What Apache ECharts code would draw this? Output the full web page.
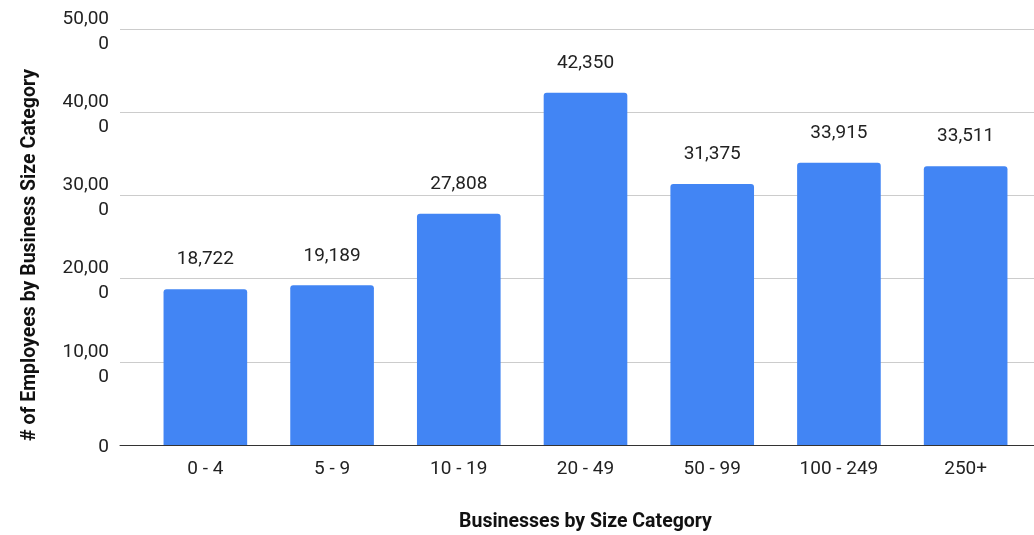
<!DOCTYPE html>
<html>
<head>
<meta charset="utf-8">
<script src="https://cdn.jsdelivr.net/npm/echarts@6/dist/echarts.min.js"></script>
<style>
html,body{margin:0;padding:0;background:#fff;}
#chart{width:1034px;height:535px;}
</style>
</head>
<body>
<div id="chart"></div>
<script>
const categories = ['0 - 4', '5 - 9', '10 - 19', '20 - 49', '50 - 99', '100 - 249', '250+'];
const employees = [18722, 19189, 27808, 42350, 31375, 33915, 33511];
const yTickValues = [0, 10000, 20000, 30000, 40000, 50000];
const yTickLabels = ['0', '10,00\n0', '20,00\n0', '30,00\n0', '40,00\n0', '50,00\n0'];
const xTitle = 'Businesses by Size Category';
const yTitle = '# of Employees by Business Size Category';

const FONT = 'Roboto';
const chart = echarts.init(document.getElementById('chart'));
chart.setOption({
  backgroundColor: '#fff',
  animation: false,
  textStyle: { fontFamily: FONT },
  grid: [
    { left: 120, right: 0, top: 29, bottom: 90, outerBoundsMode: 'none', containLabel: false },
    { left: 142, right: 5, top: 29, bottom: 90, outerBoundsMode: 'none', containLabel: false }
  ],
  xAxis: [
    {
      gridIndex: 0, type: 'value', min: 0, max: 1,
      axisLine: { show: true, onZero: false, lineStyle: { color: '#333', width: 1 } },
      axisTick: { show: false }, axisLabel: { show: false }, splitLine: { show: false }
    },
    {
      gridIndex: 1, type: 'category', data: categories,
      axisLine: { show: false }, axisTick: { show: false },
      axisLabel: { color: '#222', fontSize: 19, margin: 15, fontFamily: FONT },
      name: xTitle, nameLocation: 'middle', nameGap: 67,
      nameTextStyle: { color: '#111', fontSize: 19.5, fontWeight: 'bold', fontFamily: FONT }
    }
  ],
  yAxis: [
    {
      gridIndex: 0, type: 'value', min: 0, max: 50000, interval: 10000,
      axisLine: { show: false }, axisTick: { show: false },
      splitLine: { lineStyle: { color: '#cccccc', width: 1 } },
      axisLabel: {
        color: '#222', fontSize: 19, lineHeight: 25, margin: 11, align: 'right', fontFamily: FONT,
        formatter: function (v) {
          const i = yTickValues.indexOf(v);
          return i >= 0 ? '{pad| }\n' + yTickLabels[i] : '';
        },
        rich: { pad: { fontSize: 2, lineHeight: 5 } }
      },
      name: yTitle, nameLocation: 'middle', nameGap: 80,
      nameTextStyle: { color: '#111', fontSize: 19.5, fontWeight: 'bold', fontFamily: FONT, padding: [0, 36, 0, 0] }
    },
    {
      gridIndex: 1, type: 'value', min: 0, max: 50000, interval: 10000, show: false,
      splitLine: { show: false }
    }
  ],
  series: [{
    type: 'bar', xAxisIndex: 1, yAxisIndex: 1,
    data: employees, barWidth: '66%',
    itemStyle: { color: '#4285F4', borderRadius: [3, 3, 0, 0] },
    label: {
      show: true, position: 'top', distance: 20, color: '#222', fontSize: 19, fontFamily: FONT,
      formatter: function (p) { return p.value.toLocaleString('en-US'); }
    }
  }]
});
</script>
</body>
</html>
